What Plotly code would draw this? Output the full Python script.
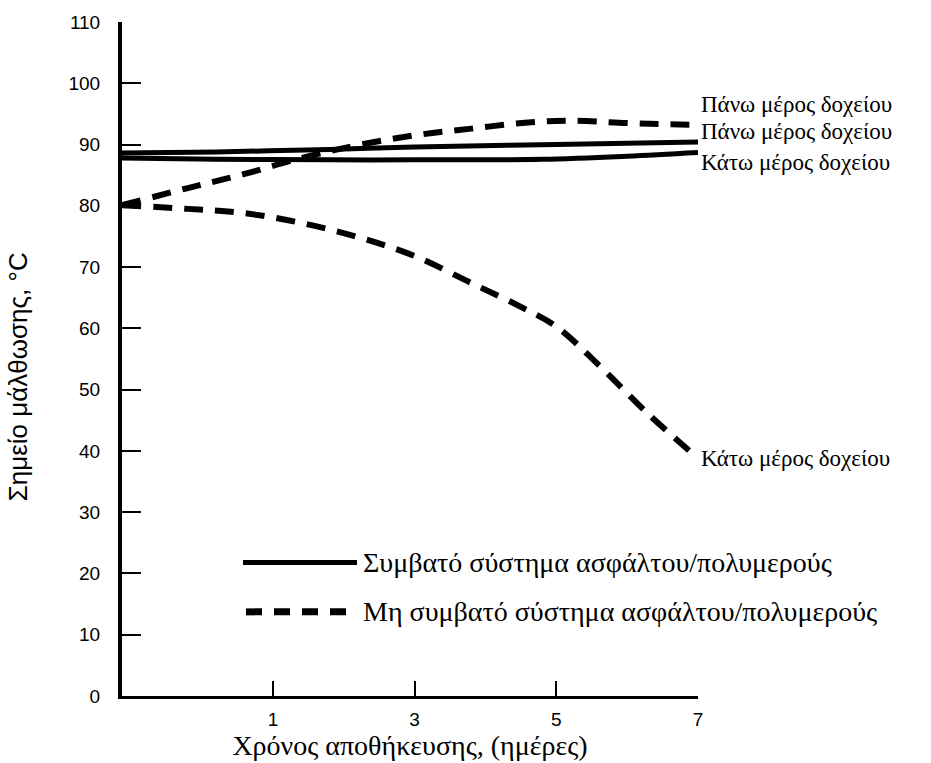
import plotly.graph_objects as go

# Storage time (days); the vertical axis sits at day -1.13 on this scale
DAY_AXIS_START = -1.13
DAY_TICKS = [1, 3, 5, 7]
TEMP_TICKS = [0, 10, 20, 30, 40, 50, 60, 70, 80, 90, 100, 110]

# Compatible asphalt/polymer system (solid)
comp_top_days = [-1.13, 0.2, 1.8, 3.0, 5.0, 7.0]
comp_top_vals = [88.6, 88.8, 89.2, 89.6, 90.0, 90.4]
comp_bot_days = [-1.13, 0.2, 1.8, 3.0, 4.8, 6.0, 7.0]
comp_bot_vals = [87.8, 87.6, 87.5, 87.5, 87.6, 88.1, 88.7]

# Incompatible asphalt/polymer system (dashed)
inc_top_days = [-1.13, -0.2, 0.6, 1.4, 2.2, 3.0, 3.8, 4.6, 5.2, 6.0, 7.0]
inc_top_vals = [80.1, 82.9, 85.2, 87.8, 89.9, 91.5, 92.6, 93.6, 93.9, 93.5, 93.2]
inc_bot_days = [-1.13, -0.2, 0.6, 1.4, 2.2, 3.0, 3.8, 4.5, 5.0, 5.6, 6.3, 7.0]
inc_bot_vals = [80.1, 79.5, 78.8, 77.2, 74.9, 71.8, 67.4, 63.5, 60.3, 54.0, 46.0, 38.8]

LABEL_TOP = "Πάνω μέρος δοχείου"
LABEL_BOT = "Κάτω μέρος δοχείου"
LEGEND_COMP = "Συμβατό σύστημα ασφάλτου/πολυμερούς"
LEGEND_INC = "Μη συμβατό σύστημα ασφάλτου/πολυμερούς"
X_TITLE = "Χρόνος αποθήκευσης, (ημέρες)"
Y_TITLE = "Σημείο μάλθωσης, °C"

SERIF = "Liberation Serif, DejaVu Serif, serif"
SANS = "Liberation Sans, Arial, sans-serif"
DASH = "19px,12px"

fig = go.Figure()

solid = dict(color="black", width=5)
dashed = dict(color="black", width=6, dash=DASH)

fig.add_trace(go.Scatter(x=comp_top_days, y=comp_top_vals, mode="lines",
                         line=dict(**solid, shape="spline"), hoverinfo="skip"))
fig.add_trace(go.Scatter(x=comp_bot_days, y=comp_bot_vals, mode="lines",
                         line=dict(**solid, shape="spline"), hoverinfo="skip"))
fig.add_trace(go.Scatter(x=inc_top_days, y=inc_top_vals, mode="lines",
                         line=dict(**dashed, shape="spline"), hoverinfo="skip"))
fig.add_trace(go.Scatter(x=inc_bot_days, y=inc_bot_vals, mode="lines",
                         line=dict(**dashed, shape="spline"), hoverinfo="skip"))

# End-of-line labels
end_labels = [
    (inc_top_days[-1], inc_top_vals[-1], LABEL_TOP, 20),
    (comp_top_days[-1], comp_top_vals[-1], LABEL_TOP, 11),
    (comp_bot_days[-1], comp_bot_vals[-1], LABEL_BOT, -10),
    (inc_bot_days[-1], inc_bot_vals[-1], LABEL_BOT, 0),
]
for x, y, txt, dy in end_labels:
    fig.add_annotation(x=x, y=y, text=txt, showarrow=False, xanchor="left",
                       yanchor="middle", xshift=1, yshift=dy,
                       font=dict(family=SERIF, size=23, color="black"))

# Key drawn inside the plot
PW, PH = 576.0, 681.0
def px(xp):
    return (xp - 122) / PW
def py(yp):
    return (703 - yp) / PH

fig.add_shape(type="line", xref="paper", yref="paper",
              x0=px(243), x1=px(357), y0=py(568), y1=py(568),
              line=dict(color="black", width=5))
fig.add_shape(type="line", xref="paper", yref="paper",
              x0=px(246), x1=px(356), y0=py(618), y1=py(618),
              line=dict(color="black", width=7, dash="16px,12px"))
for yp, txt in [(568, LEGEND_COMP), (618, LEGEND_INC)]:
    fig.add_annotation(x=px(361), y=py(yp), xref="paper", yref="paper",
                       text=txt, showarrow=False, xanchor="left",
                       yanchor="middle",
                       font=dict(family=SERIF, size=28, color="black"))

# Y-axis title
fig.add_annotation(x=px(18), y=py(381), xref="paper", yref="paper",
                   text=Y_TITLE, showarrow=False, textangle=-90,
                   xanchor="center", yanchor="middle",
                   font=dict(family=SANS, size=26, color="black"))

fig.update_xaxes(range=[DAY_AXIS_START, 7], tickvals=DAY_TICKS,
                 ticktext=[str(v) for v in DAY_TICKS],
                 showgrid=False, zeroline=False, showline=True,
                 linecolor="black", linewidth=3, ticks="inside",
                 ticklen=15, tickwidth=2, tickcolor="black",
                 ticklabelstandoff=4,
                 tickfont=dict(family=SANS, size=19, color="black"),
                 title=dict(text=X_TITLE, standoff=2,
                            font=dict(family=SERIF, size=28, color="black")))
fig.update_yaxes(range=[0, 110], tickvals=TEMP_TICKS,
                 showgrid=False, zeroline=False, showline=True,
                 linecolor="black", linewidth=4, ticks="inside",
                 ticklen=19, tickwidth=2, tickcolor="black",
                 ticklabelstandoff=14,
                 tickfont=dict(family=SANS, size=19, color="black"))

fig.update_layout(width=931, height=763, showlegend=False,
                  margin=dict(l=122, r=233, t=22, b=60),
                  paper_bgcolor="white", plot_bgcolor="white")

fig.write_html("out.html")
